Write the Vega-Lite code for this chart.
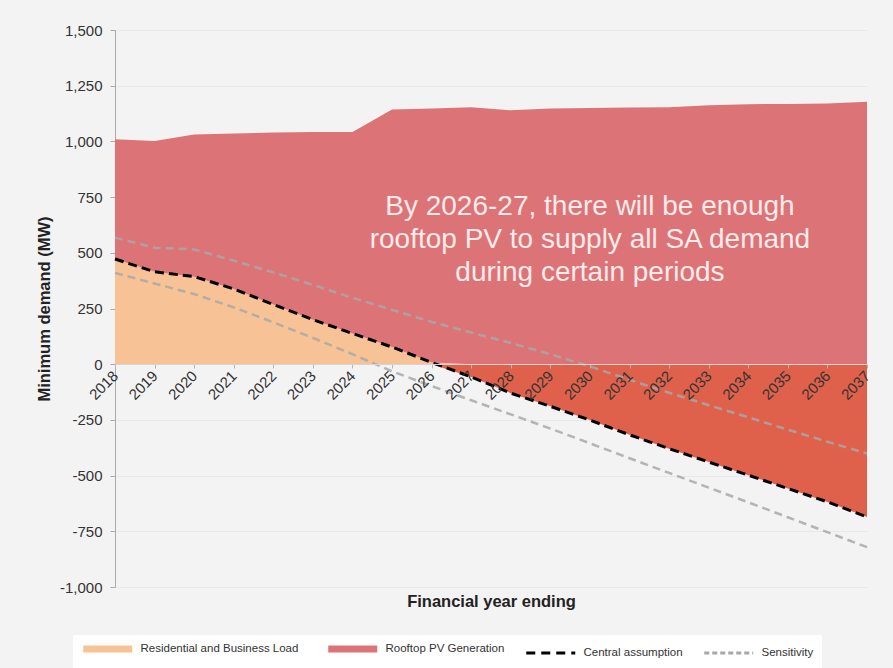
{
  "$schema": "https://vega.github.io/schema/vega-lite/v6.json",
  "width": 752,
  "height": 557,
  "padding": {"left": 36, "top": 23, "right": 25, "bottom": 5},
  "background": "#f4f3f3",
  "config": {
    "view": {"stroke": null},
    "font": "Liberation Sans",
    "locale": {"number": {"decimal": ".", "thousands": ",", "grouping": [3], "currency": ["$", ""], "minus": "-"}}
  },
  "data": {
    "values": [
      {"year": 2018, "total": 1010, "central": 472, "load": 472, "neg": 0, "upper": 568, "lower": 410},
      {"year": 2019, "total": 1002, "central": 415, "load": 415, "neg": 0, "upper": 523, "lower": 362},
      {"year": 2020, "total": 1031, "central": 393, "load": 393, "neg": 0, "upper": 515, "lower": 315},
      {"year": 2021, "total": 1036, "central": 338, "load": 338, "neg": 0, "upper": 465, "lower": 255},
      {"year": 2022, "total": 1040, "central": 268, "load": 268, "neg": 0, "upper": 412, "lower": 188},
      {"year": 2023, "total": 1042, "central": 200, "load": 200, "neg": 0, "upper": 356, "lower": 118},
      {"year": 2024, "total": 1042, "central": 138, "load": 138, "neg": 0, "upper": 298, "lower": 45},
      {"year": 2025, "total": 1143, "central": 77, "load": 77, "neg": 0, "upper": 244, "lower": -32},
      {"year": 2026, "total": 1148, "central": 8, "load": 8, "neg": 0, "upper": 190, "lower": -98},
      {"year": 2027, "total": 1153, "central": -57, "load": 0, "neg": -57, "upper": 142, "lower": -162},
      {"year": 2028, "total": 1140, "central": -130, "load": 0, "neg": -130, "upper": 95, "lower": -225},
      {"year": 2029, "total": 1148, "central": -189, "load": 0, "neg": -189, "upper": 45, "lower": -289},
      {"year": 2030, "total": 1150, "central": -251, "load": 0, "neg": -251, "upper": -10, "lower": -355},
      {"year": 2031, "total": 1152, "central": -317, "load": 0, "neg": -317, "upper": -70, "lower": -422},
      {"year": 2032, "total": 1153, "central": -379, "load": 0, "neg": -379, "upper": -128, "lower": -488},
      {"year": 2033, "total": 1162, "central": -439, "load": 0, "neg": -439, "upper": -184, "lower": -554},
      {"year": 2034, "total": 1167, "central": -498, "load": 0, "neg": -498, "upper": -238, "lower": -620},
      {"year": 2035, "total": 1168, "central": -558, "load": 0, "neg": -558, "upper": -294, "lower": -687},
      {"year": 2036, "total": 1170, "central": -618, "load": 0, "neg": -618, "upper": -348, "lower": -754},
      {"year": 2037, "total": 1178, "central": -686, "load": 0, "neg": -686, "upper": -401, "lower": -821}
    ]
  },
  "encoding": {
    "x": {
      "field": "year",
      "type": "quantitative",
      "scale": {"domain": [2018, 2037], "nice": false, "zero": false},
      "axis": {
        "values": [2018, 2019, 2020, 2021, 2022, 2023, 2024, 2025, 2026, 2027, 2028, 2029, 2030, 2031, 2032, 2033, 2034, 2035, 2036, 2037],
        "format": "d",
        "offset": -223,
        "zindex": 1,
        "grid": false,
        "labelAngle": -45,
        "labelAlign": "right",
        "labelBaseline": "middle",
        "labelPadding": 5,
        "labelFontSize": 15,
        "labelColor": "#333333",
        "labelFlush": false,
        "labelOverlap": false,
        "domainColor": "#d8d4d4",
        "tickColor": "#b5b5b5",
        "tickSize": 4,
        "title": "Financial year ending",
        "titleFontSize": 16.5,
        "titleFontWeight": "bold",
        "titleColor": "#222222",
        "titleY": 237,
        "titleBaseline": "middle"
      }
    }
  },
  "layer": [
    {
      "mark": {"type": "area"},
      "encoding": {
        "y": {
          "field": "load",
          "type": "quantitative",
          "title": "Minimum demand (MW)",
          "scale": {"domain": [-1000, 1500], "nice": false},
          "axis": {
            "values": [-1000, -750, -500, -250, 0, 250, 500, 750, 1000, 1250, 1500],
            "format": ",d",
            "labelFontSize": 15,
            "labelColor": "#333333",
            "labelPadding": 8,
            "tickColor": "#aaaaaa",
            "tickSize": 5,
            "domainColor": "#aaaaaa",
            "gridColor": "#e9e8e8",
            "titleFontSize": 16.5,
            "titleFontWeight": "bold",
            "titleColor": "#222222",
            "titlePadding": 7
          }
        },
        "y2": {"datum": 0},
        "color": {
          "datum": "Residential and Business Load",
          "scale": {
            "domain": ["Residential and Business Load", "Rooftop PV Generation", "Central assumption", "Sensitivity"],
            "range": ["#f6c296", "#dc7477", "#000000", "#a8a8a8"]
          },
          "legend": {
            "title": null,
            "orient": "none",
            "legendX": -42,
            "legendY": 605,
            "direction": "horizontal",
            "columns": 4,
            "columnPadding": 15,
            "fillColor": "#ffffff",
            "padding": 8,
            "symbolType": "stroke",
            "symbolSize": 2400,
            "symbolOffset": 21,
            "labelFontSize": 11.5,
            "labelColor": "#333333",
            "labelOffset": 27,
            "encode": {
              "symbols": {
                "update": {
                  "stroke": {"scale": "color", "field": "value"},
                  "strokeWidth": {"signal": "datum.value == 'Central assumption' || datum.value == 'Sensitivity' ? 3 : 7"},
                  "strokeDash": {"signal": "datum.value == 'Central assumption' ? [9, 6] : datum.value == 'Sensitivity' ? [5, 3] : [1, 0]"},
                  "opacity": {"value": 1}
                }
              }
            }
          }
        }
      }
    },
    {
      "mark": {"type": "area"},
      "encoding": {
        "y": {"field": "total", "type": "quantitative", "title": "Minimum demand (MW)"},
        "y2": {"field": "load"},
        "color": {"datum": "Rooftop PV Generation"}
      }
    },
    {
      "mark": {"type": "area", "color": "#df614b"},
      "encoding": {
        "y": {"field": "neg", "type": "quantitative", "title": "Minimum demand (MW)"},
        "y2": {"datum": 0}
      }
    },
    {
      "mark": {"type": "line", "strokeDash": [9, 5], "strokeWidth": 3},
      "encoding": {
        "y": {"field": "central", "type": "quantitative", "title": "Minimum demand (MW)"},
        "color": {"datum": "Central assumption"}
      }
    },
    {
      "mark": {"type": "line", "strokeDash": [8, 5], "strokeWidth": 2.5, "opacity": 0.85},
      "encoding": {
        "y": {"field": "upper", "type": "quantitative", "title": "Minimum demand (MW)"},
        "color": {"datum": "Sensitivity"}
      }
    },
    {
      "mark": {"type": "line", "strokeDash": [8, 5], "strokeWidth": 2.5, "opacity": 0.85},
      "encoding": {
        "y": {"field": "lower", "type": "quantitative", "title": "Minimum demand (MW)"},
        "color": {"datum": "Sensitivity"}
      }
    },
    {
      "data": {"values": [{"year": 2030, "value": 705, "note": "By 2026-27, there will be enough\nrooftop PV to supply all SA demand\nduring certain periods"}]},
      "mark": {"type": "text", "fontSize": 28, "color": "#fbeaea", "lineBreak": "\n", "align": "center", "baseline": "middle", "lineHeight": 33},
      "encoding": {
        "y": {"field": "value", "type": "quantitative", "title": "Minimum demand (MW)"},
        "text": {"field": "note"}
      }
    }
  ]
}
